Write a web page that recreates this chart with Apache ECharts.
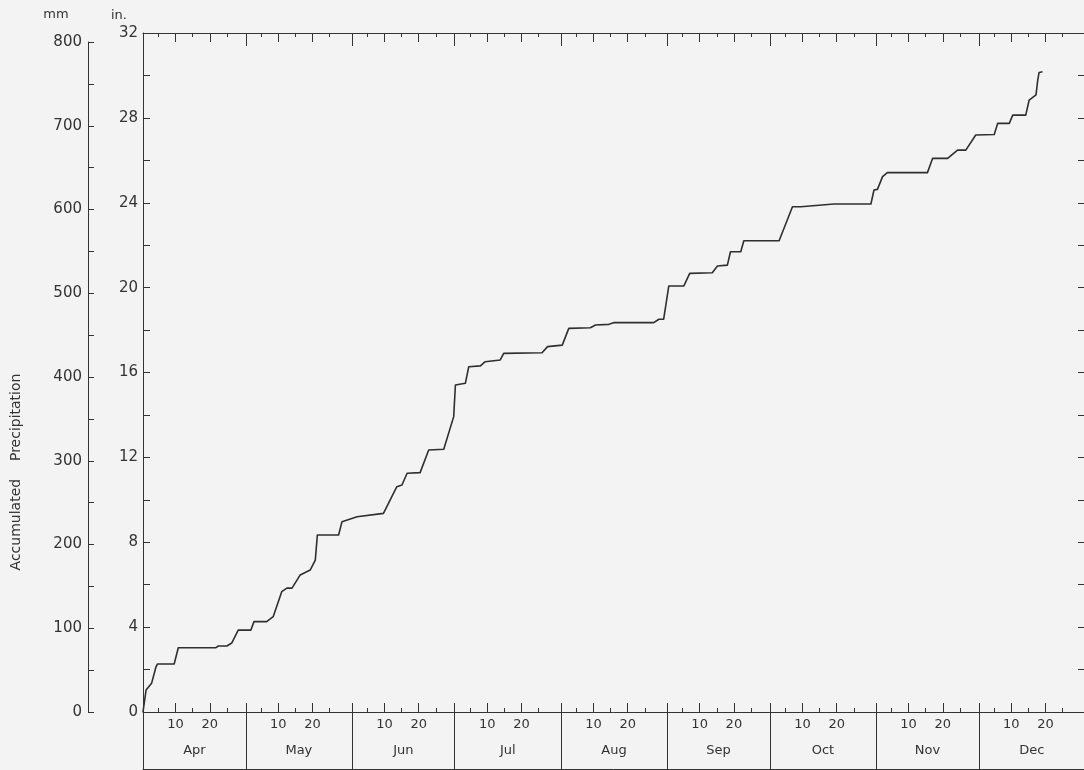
<!DOCTYPE html>
<html>
<head>
<meta charset="utf-8">
<script src="https://cdn.jsdelivr.net/npm/echarts@6/dist/echarts.min.js"></script>
<style>
  html, body { margin: 0; padding: 0; background: #f3f3f3; }
  #chart { width: 1084px; height: 770px; }
</style>
</head>
<body>
<div id="chart"></div>
<script>
// Calendar strip under the plot
const monthNames = ['Apr', 'May', 'Jun', 'Jul', 'Aug', 'Sep', 'Oct', 'Nov', 'Dec'];
const monthLengths = [30, 31, 30, 31, 31, 30, 31, 30, 31];
const labelledDays = [10, 20];
const minorDays = [5, 15, 25];

// Accumulated precipitation: days elapsed since 1 April, and total in inches
const days = [
  0, 0.9, 2.5, 3.8, 4.2, 9.1, 10.3, 21.3, 22.0, 24.5,
  25.9, 27.8, 31.5, 32.4, 36.1, 38.0, 40.5, 42.0, 43.5, 45.9,
  48.8, 50.3, 50.9, 57.1, 58.1, 62.5, 70.2, 74.1, 75.6, 77.1,
  80.9, 83.4, 87.8, 90.7, 91.2, 94.1, 95.1, 98.5, 99.9, 104.3,
  105.3, 116.5, 118.1, 122.4, 124.3, 130.6, 132.1, 136.0, 137.4, 149.1,
  150.6, 152.0, 153.5, 157.9, 159.6, 166.2, 167.7, 170.6, 171.5, 174.5,
  175.4, 185.7, 189.6, 192.1, 201.7, 212.5, 213.4, 214.4, 215.9, 217.3,
  229.0, 230.5, 234.9, 236.3, 237.8, 240.2, 243.1, 248.5, 249.5, 252.9,
  253.9, 257.7, 258.7, 260.7, 261.2, 261.6, 262.6
];
const inches = [
  0, 1.04, 1.35, 2.13, 2.26, 2.26, 3.03, 3.03, 3.11, 3.11,
  3.25, 3.86, 3.86, 4.26, 4.26, 4.49, 5.67, 5.84, 5.84, 6.46,
  6.69, 7.16, 8.34, 8.34, 8.97, 9.20, 9.36, 10.62, 10.70, 11.25,
  11.28, 12.35, 12.38, 13.92, 15.41, 15.49, 16.27, 16.31, 16.51, 16.59,
  16.90, 16.93, 17.22, 17.29, 18.08, 18.11, 18.24, 18.27, 18.35, 18.35,
  18.51, 18.51, 20.08, 20.08, 20.67, 20.70, 21.02, 21.06, 21.69, 21.69,
  22.21, 22.21, 23.81, 23.81, 23.94, 23.94, 24.60, 24.63, 25.23, 25.42,
  25.42, 26.09, 26.09, 26.28, 26.48, 26.48, 27.19, 27.22, 27.74, 27.74,
  28.13, 28.13, 28.84, 29.08, 29.78, 30.14, 30.17
];

const monthStarts = [];
let running = 0;
monthLengths.forEach(len => { monthStarts.push(running); running += len; });
const totalDays = running;

const boundaryTicks = monthStarts.concat([totalDays]);
const monthMids = monthStarts.map((s, i) => s + monthLengths[i] / 2);
const dayPos = d => monthStarts.flatMap(s => d.map(v => s + v - 0.5));
const longTicks = dayPos(labelledDays);
const shortTicks = dayPos(minorDays);

const monthOf = v => {
  let m = 0;
  monthStarts.forEach((s, i) => { if (v >= s) m = i; });
  return m;
};

const ink = '#333333';
const fontFamily = 'DejaVu Sans';
const plotBox = { left: 143, top: 33, width: 942, height: 679, containLabel: false, outerBoundsMode: 'none' };

const dayAxis = (gridIndex, position, extra) => Object.assign({
  type: 'value', gridIndex, position, min: 0, max: totalDays,
  axisLine: { show: false, onZero: false, lineStyle: { color: ink, width: 1 } },
  axisTick: { show: false },
  axisLabel: { show: false },
  splitLine: { show: false }
}, extra);

const chart = echarts.init(document.getElementById('chart'), null, { renderer: 'canvas' });
chart.setOption({
  backgroundColor: '#f3f3f3',
  animation: false,
  textStyle: { fontFamily },
  grid: [
    Object.assign({}, plotBox),
    Object.assign({}, plotBox),
    Object.assign({}, plotBox),
    { left: 143, top: 712, width: 942, height: 57, containLabel: false, outerBoundsMode: 'none' },
    { left: 88, top: 42, width: 20, height: 670, containLabel: false, outerBoundsMode: 'none' }
  ],
  xAxis: [
    dayAxis(0, 'bottom', {
      axisLine: { show: true, onZero: false, lineStyle: { color: ink, width: 1 } },
      axisTick: { show: true, inside: true, length: 4, customValues: shortTicks, lineStyle: { color: ink, width: 1 } }
    }),
    dayAxis(0, 'top', {
      axisLine: { show: true, onZero: false, lineStyle: { color: ink, width: 1 } },
      axisTick: { show: true, inside: true, length: 4, customValues: shortTicks, lineStyle: { color: ink, width: 1 } }
    }),
    dayAxis(1, 'bottom', {
      axisTick: { show: true, inside: true, length: 9, customValues: longTicks, lineStyle: { color: ink, width: 1 } },
      axisLabel: {
        show: true, customValues: longTicks, margin: 6, color: ink, fontSize: 13, fontFamily,
        formatter: v => String(Math.round(v - monthStarts[monthOf(v)] + 0.5))
      }
    }),
    dayAxis(1, 'top', {
      axisTick: { show: true, inside: true, length: 9, customValues: longTicks, lineStyle: { color: ink, width: 1 } }
    }),
    dayAxis(2, 'top', {
      axisTick: { show: true, inside: true, length: 13, customValues: boundaryTicks, lineStyle: { color: ink, width: 1 } }
    }),
    dayAxis(2, 'bottom', { show: false }),
    dayAxis(3, 'bottom', {
      axisLine: { show: true, onZero: false, lineStyle: { color: ink, width: 1 } },
      axisTick: { show: true, inside: true, length: 66, customValues: boundaryTicks, lineStyle: { color: ink, width: 1 } },
      axisLabel: {
        show: true, inside: true, customValues: monthMids, margin: 12, color: ink, fontSize: 13, fontFamily,
        formatter: v => monthNames[monthOf(v)]
      }
    }),
    dayAxis(4, 'bottom', { show: false })
  ],
  yAxis: [
    {
      type: 'value', gridIndex: 0, position: 'left', min: 0, max: 32, interval: 2,
      axisLine: { show: true, onZero: false, lineStyle: { color: ink, width: 1 } },
      axisTick: { show: true, inside: true, length: 7, lineStyle: { color: ink, width: 1 } },
      axisLabel: { show: true, margin: 5, color: ink, fontSize: 15, fontFamily,
        formatter: v => (v % 4 === 0 ? String(v) : '') },
      splitLine: { show: false }
    },
    {
      type: 'value', gridIndex: 0, position: 'right', min: 0, max: 32, interval: 2,
      axisLine: { show: true, onZero: false, lineStyle: { color: ink, width: 1 } },
      axisTick: { show: true, inside: true, length: 7, lineStyle: { color: ink, width: 1 } },
      axisLabel: { show: false },
      splitLine: { show: false }
    },
    { type: 'value', gridIndex: 1, min: 0, max: 32, show: false },
    { type: 'value', gridIndex: 2, min: 0, max: 32, show: false },
    {
      type: 'value', gridIndex: 3, position: 'left', min: 0, max: 1,
      axisLine: { show: true, onZero: false, lineStyle: { color: ink, width: 1 } },
      axisTick: { show: false }, axisLabel: { show: false }, splitLine: { show: false }
    },
    {
      type: 'value', gridIndex: 4, position: 'left', min: 0, max: 800, interval: 100,
      axisLine: { show: true, onZero: false, lineStyle: { color: ink, width: 1 } },
      axisTick: { show: true, inside: true, length: 6, lineStyle: { color: ink, width: 1 } },
      minorTick: { show: true, splitNumber: 2, length: 6, lineStyle: { color: ink, width: 1 } },
      axisLabel: { show: true, margin: 6, color: ink, fontSize: 15, fontFamily },
      splitLine: { show: false }, minorSplitLine: { show: false }
    }
  ],
  graphic: [
    { type: 'text', x: 56, y: 15, style: { text: 'mm', fill: ink, fontSize: 13, fontFamily, textAlign: 'center', textVerticalAlign: 'middle' } },
    { type: 'text', x: 119, y: 16, style: { text: 'in.', fill: ink, fontSize: 13, fontFamily, textAlign: 'center', textVerticalAlign: 'middle' } },
    { type: 'text', x: 16, y: 472, rotation: Math.PI / 2,
      style: { text: 'Accumulated    Precipitation', fill: ink, fontSize: 14, fontFamily, textAlign: 'center', textVerticalAlign: 'middle' } }
  ],
  series: [{
    name: 'Accumulated Precipitation',
    type: 'line',
    xAxisIndex: 0,
    yAxisIndex: 0,
    data: days.map((d, i) => [d, inches[i]]),
    showSymbol: false,
    symbol: 'none',
    lineStyle: { color: '#2f2f2f', width: 1.6, join: 'round' },
    silent: true
  }]
});
</script>
</body>
</html>
